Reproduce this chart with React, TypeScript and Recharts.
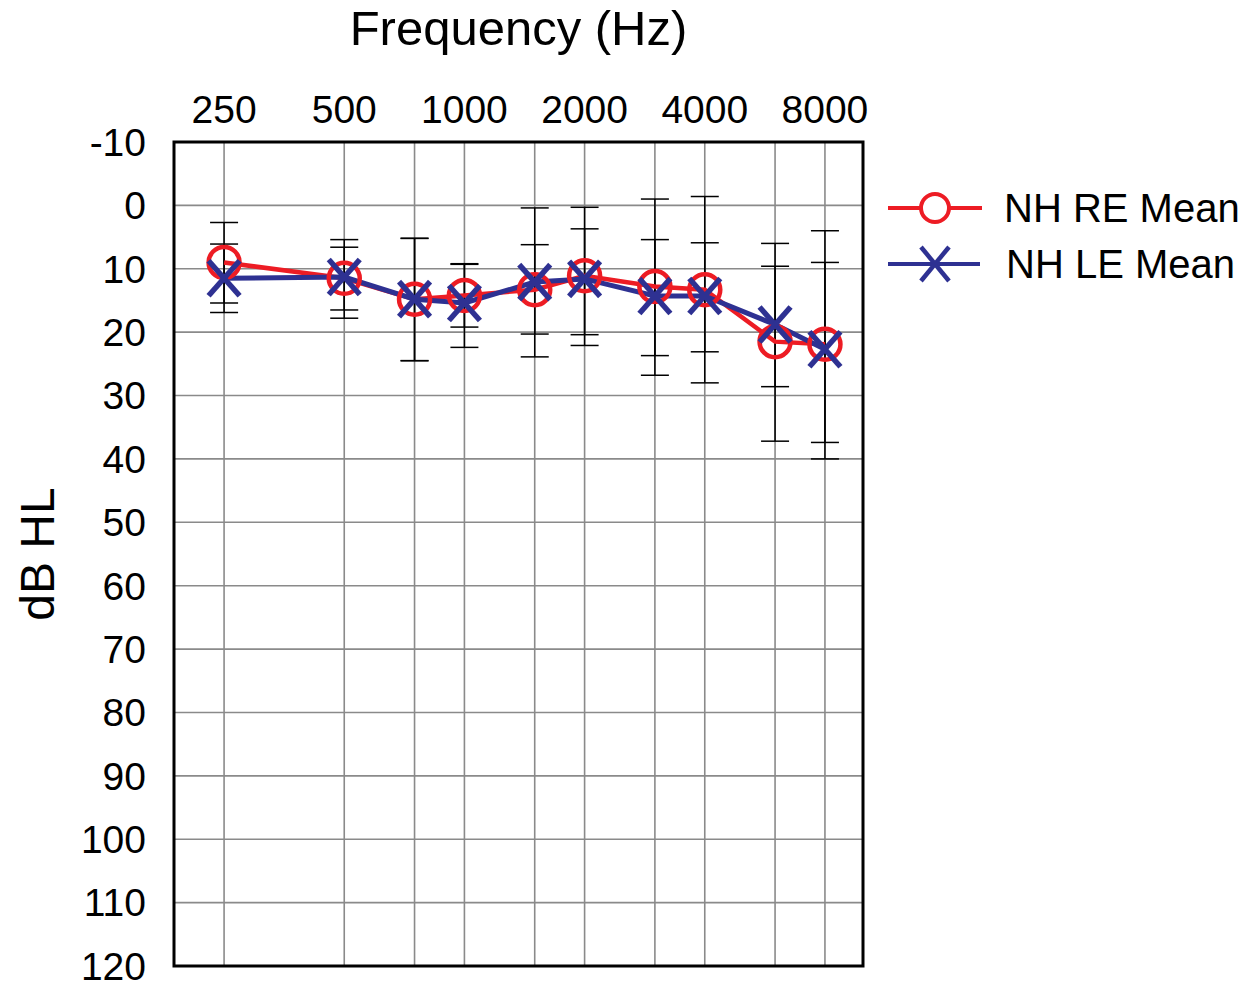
import { LineChart, Line, XAxis, YAxis, CartesianGrid, ErrorBar, ReferenceArea, Legend } from "recharts";

const FONT = "'Liberation Sans', Arial, sans-serif";
const RED = "#ED1C24";
const BLUE = "#2E3192";

// audiogram frequencies (Hz), labels only on the octaves
const freqs = [250, 500, 750, 1000, 1500, 2000, 3000, 4000, 6000, 8000];
const labelFreqs = [250, 500, 1000, 2000, 4000, 8000];
const dbTicks = [-10, 0, 10, 20, 30, 40, 50, 60, 70, 80, 90, 100, 110, 120];

// mean thresholds (dB HL)
const reMean = [9, 11.5, 14.8, 14.2, 13.3, 11.1, 12.8, 13.3, 21.5, 21.9];
const leMean = [11.5, 11.3, 14.8, 15.4, 12.1, 11.6, 14.3, 14.3, 18.8, 22.7];

// error bar ends (dB HL): top / bottom
const reTop = [2.7, 5.4, 5.2, 9.2, 6.2, 0.3, -1.0, -1.4, 6.0, 4.0];
const reBottom = [15.4, 17.8, 24.5, 19.2, 20.3, 22.1, 26.8, 28.0, 37.2, 40.0];
const leTop = [6.1, 6.6, 5.2, 9.3, 0.4, 3.7, 5.4, 5.9, 9.6, 9.0];
const leBottom = [16.9, 16.5, 24.5, 22.4, 23.9, 20.4, 23.7, 23.1, 28.6, 37.4];

// octaves above 250 Hz -> linear axis gives a log frequency scale
const oct = (f: number) => Math.log2(f / 250);

const data = freqs.map((f, i) => ({
  x: oct(f),
  re: reMean[i],
  le: leMean[i],
  reErr: [reMean[i] - reTop[i], reBottom[i] - reMean[i]],
  leErr: [leMean[i] - leTop[i], leBottom[i] - leMean[i]],
}));

const xDomain = [-0.4167, 5.3167];

const Ring = (props: any) => {
  const { cx, cy, index } = props;
  if (cx == null || cy == null) return <g key={`r${index}`} />;
  return <circle key={`r${index}`} cx={cx} cy={cy} r={15.5} fill="none" stroke={RED} strokeWidth={4.5} />;
};

const Cross = (props: any) => {
  const { cx, cy, index } = props;
  if (cx == null || cy == null) return <g key={`c${index}`} />;
  return (
    <g key={`c${index}`} stroke={BLUE} strokeWidth={5.5}>
      <line x1={cx - 15.5} y1={cy - 17.5} x2={cx + 15.5} y2={cy + 17.5} />
      <line x1={cx + 15.5} y1={cy - 17.5} x2={cx - 15.5} y2={cy + 17.5} />
    </g>
  );
};

const YTitle = (props: any) => {
  const vb = props.viewBox;
  const cx = vb.x + 37;
  const cy = vb.y + vb.height / 2;
  return (
    <text x={cx} y={cy} transform={`rotate(-90 ${cx} ${cy})`} textAnchor="middle" dominantBaseline="central"
      fontSize={48} fontFamily={FONT} fill="#000">
      dB HL
    </text>
  );
};

const LegendBox = () => (
  <svg width={370} height={110} style={{ fontFamily: FONT }}>
    <line x1={8} y1={28} x2={102} y2={28} stroke={RED} strokeWidth={4} />
    <circle cx={55} cy={28} r={14} fill="#fff" stroke={RED} strokeWidth={4} />
    <text x={124} y={28} dominantBaseline="central" fontSize={40} fill="#000">NH RE Mean</text>
    <line x1={8} y1={84} x2={100} y2={84} stroke={BLUE} strokeWidth={4} />
    <g stroke={BLUE} strokeWidth={4.5}>
      <line x1={41} y1={67} x2={69} y2={101} />
      <line x1={69} y1={67} x2={41} y2={101} />
    </g>
    <text x={126} y={84} dominantBaseline="central" fontSize={40} fill="#000">NH LE Mean</text>
  </svg>
);

export default function App() {
  return (
    <div style={{ position: "absolute", left: 0, top: 0, background: "#fff" }}>
      <LineChart width={1253} height={988} data={data} margin={{ top: 0, right: 390, bottom: 22, left: 0 }}>
        <CartesianGrid stroke="#8a8a8a" strokeWidth={1.6} />
        <XAxis
          dataKey="x"
          type="number"
          orientation="top"
          domain={xDomain}
          allowDataOverflow
          ticks={freqs.map(oct)}
          interval={0}
          tickFormatter={(v: number) => {
            const f = Math.round(250 * Math.pow(2, v));
            return labelFreqs.includes(f) ? String(f) : "";
          }}
          height={142}
          axisLine={false}
          tickLine={false}
          tickSize={0}
          tickMargin={19}
          tick={{ fontSize: 39, fill: "#000", fontFamily: FONT }}
          label={{ value: "Frequency (Hz)", position: "insideTop", offset: 10, fontSize: 49, fill: "#000", fontFamily: FONT }}
        />
        <YAxis
          type="number"
          reversed
          domain={[-10, 120]}
          allowDataOverflow
          ticks={dbTicks}
          interval={0}
          width={174}
          axisLine={false}
          tickLine={false}
          tickSize={0}
          tickMargin={28}
          tick={{ fontSize: 39, fill: "#000", fontFamily: FONT }}
          label={<YTitle />}
        />
        <ReferenceArea x1={xDomain[0]} x2={xDomain[1]} y1={-10} y2={120} ifOverflow="visible"
          fill="none" stroke="#000" strokeWidth={3} />
        {/* carriers for the error bars so they sit under the mean lines */}
        <Line dataKey="re" stroke="none" dot={false} activeDot={false} isAnimationActive={false} legendType="none">
          <ErrorBar dataKey="reErr" width={14} stroke="#000" strokeWidth={1.5} direction="y" isAnimationActive={false} />
        </Line>
        <Line dataKey="le" stroke="none" dot={false} activeDot={false} isAnimationActive={false} legendType="none">
          <ErrorBar dataKey="leErr" width={14} stroke="#000" strokeWidth={1.5} direction="y" isAnimationActive={false} />
        </Line>
        <Line dataKey="re" name="NH RE Mean" stroke={RED} strokeWidth={4.5} dot={<Ring />} activeDot={false} isAnimationActive={false} />
        <Line dataKey="le" name="NH LE Mean" stroke={BLUE} strokeWidth={5} dot={<Cross />} activeDot={false} isAnimationActive={false} />
        <Legend layout="vertical" align="center" verticalAlign="middle" content={<LegendBox />}
          wrapperStyle={{ left: 880, top: 180, width: 370, height: 110 }} />
      </LineChart>
    </div>
  );
}
